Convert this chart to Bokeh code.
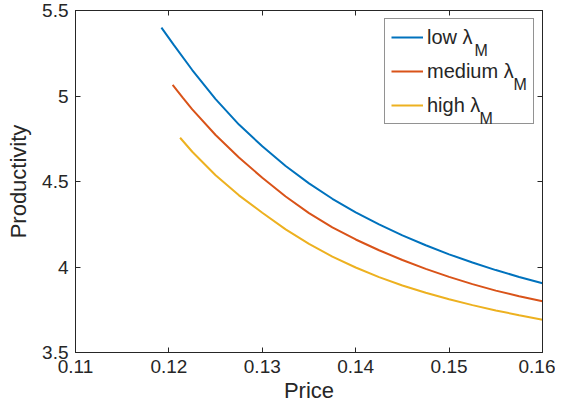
from bokeh.plotting import figure
from bokeh.models import Range1d, FixedTicker, LinearAxis, Legend, LegendItem, Label
from bokeh.embed import file_html
from bokeh.resources import INLINE

# ---- data ----
price_low = [0.1192, 0.1205, 0.1225, 0.125, 0.1275, 0.13, 0.1325, 0.135, 0.1375, 0.14,
             0.1425, 0.145, 0.1475, 0.15, 0.1525, 0.155, 0.1575, 0.16]
prod_low = [5.400, 5.300, 5.152, 4.982, 4.833, 4.706, 4.591, 4.489, 4.399, 4.320,
            4.249, 4.185, 4.127, 4.074, 4.026, 3.982, 3.942, 3.905]

price_med = [0.1204, 0.1215, 0.1225, 0.125, 0.1275, 0.13, 0.1325, 0.135, 0.1375, 0.14,
             0.1425, 0.145, 0.1475, 0.15, 0.1525, 0.155, 0.1575, 0.16]
prod_med = [5.065, 4.989, 4.922, 4.772, 4.640, 4.522, 4.412, 4.315, 4.232, 4.161,
            4.098, 4.041, 3.989, 3.942, 3.900, 3.862, 3.829, 3.800]

price_high = [0.1212, 0.1225, 0.125, 0.1275, 0.13, 0.1325, 0.135, 0.1375, 0.14,
              0.1425, 0.145, 0.1475, 0.15, 0.1525, 0.155, 0.1575, 0.16]
prod_high = [4.756, 4.674, 4.537, 4.419, 4.317, 4.220, 4.135, 4.061, 3.997,
             3.941, 3.892, 3.849, 3.811, 3.777, 3.746, 3.718, 3.692]

series_names = ["low \u03bb", "medium \u03bb", "high \u03bb"]
series_sub = "M"
series_colors = ["#0072BD", "#D95319", "#EDB120"]

x_ticks = [0.11, 0.12, 0.13, 0.14, 0.15, 0.16]
x_tick_labels = ["0.11", "0.12", "0.13", "0.14", "0.15", "0.16"]
y_ticks = [3.5, 4.0, 4.5, 5.0, 5.5]
y_tick_labels = ["3.5", "4", "4.5", "5", "5.5"]

FONT = "Liberation Sans"
AX = "#262626"

p = figure(width=555, height=411, output_backend="svg", toolbar_location=None,
           x_range=Range1d(0.11, 0.16), y_range=Range1d(3.5, 5.5),
           x_axis_label="Price", y_axis_label="Productivity",
           min_border_left=75, min_border_right=13, min_border_top=10, min_border_bottom=59)
p.background_fill_color = "white"
p.border_fill_color = "white"
p.outline_line_color = AX
p.outline_line_width = 1
p.xgrid.visible = False
p.ygrid.visible = False

def style_axis(ax, ticks, labels, show_labels=True):
    ax.ticker = FixedTicker(ticks=ticks)
    ax.major_label_overrides = {t: l for t, l in zip(ticks, labels)}
    ax.major_tick_in = 5
    ax.major_tick_out = 0
    ax.minor_tick_line_color = None
    ax.axis_line_color = AX
    ax.major_tick_line_color = AX
    ax.major_label_text_color = AX
    ax.major_label_text_font = FONT
    ax.major_label_text_font_size = "19px"
    ax.major_label_standoff = 7
    ax.axis_label_text_font = FONT
    ax.axis_label_text_font_size = "22px"
    ax.axis_label_text_font_style = "normal"
    ax.axis_label_text_color = AX
    if not show_labels:
        ax.major_label_text_font_size = "0px"
        ax.major_label_standoff = 0
        ax.major_label_text_color = None

style_axis(p.xaxis[0], x_ticks, x_tick_labels)
style_axis(p.yaxis[0], y_ticks, y_tick_labels)
p.xaxis[0].axis_label_standoff = 2
p.yaxis[0].axis_label_standoff = 8

top_ax = LinearAxis()
right_ax = LinearAxis()
style_axis(top_ax, x_ticks, x_tick_labels, show_labels=False)
style_axis(right_ax, y_ticks, y_tick_labels, show_labels=False)
p.add_layout(top_ax, "above")
p.add_layout(right_ax, "right")

renderers = []
for xs, ys, c in [(price_low, prod_low, series_colors[0]),
                  (price_med, prod_med, series_colors[1]),
                  (price_high, prod_high, series_colors[2])]:
    renderers.append(p.line(xs, ys, line_color=c, line_width=2))

# subscript "M" after each lambda (screen units relative to the frame)
sub_x = [399, 438, 404]
sub_y = [302.5, 268.5, 234.5]
for sx, sy in zip(sub_x, sub_y):
    p.add_layout(Label(x=sx, y=sy, x_units="screen", y_units="screen", text=series_sub,
                       text_font=FONT, text_font_size="16px", text_color=AX,
                       text_baseline="alphabetic"))

legend = Legend(items=[LegendItem(label=n, renderers=[r]) for n, r in zip(series_names, renderers)],
                location="top_right", margin=8, padding=6, spacing=10,
                glyph_width=32, glyph_height=24, label_height=24, label_width=100,
                label_standoff=4, label_text_font=FONT, label_text_font_size="20px",
                label_text_color=AX, border_line_color=AX, border_line_width=1,
                background_fill_alpha=0.0)
p.add_layout(legend)

open("out.html", "w").write(file_html(p, INLINE))
